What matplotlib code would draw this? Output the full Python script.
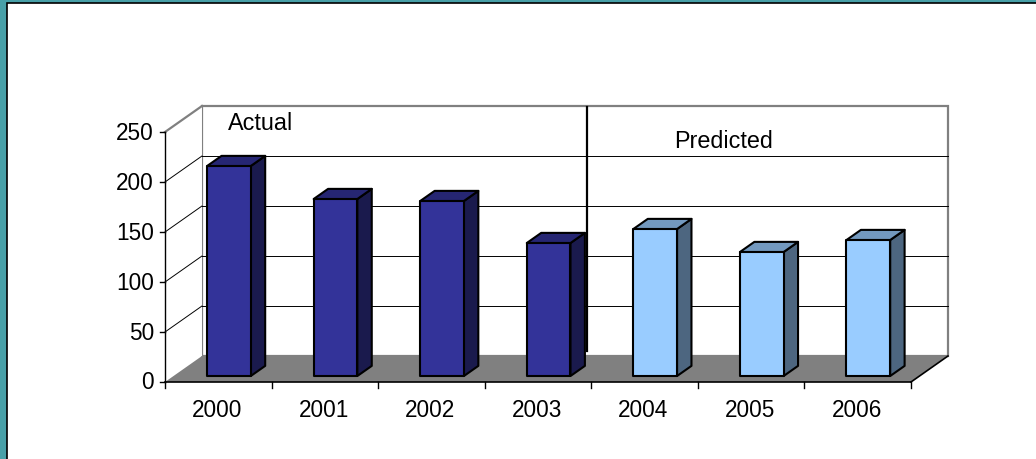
import matplotlib
matplotlib.use("Agg")
import matplotlib.pyplot as plt
from matplotlib.patches import Polygon, Rectangle

plt.rcParams['font.family'] = ['Liberation Sans', 'DejaVu Sans']

# Data
years = ['2000', '2001', '2002', '2003', '2004', '2005', '2006']
values = [210, 177, 175, 133, 147, 124, 136]
is_predicted = [False, False, False, False, True, True, True]
y_ticks = [0, 50, 100, 150, 200, 250]

# 3D look (oblique projection, in data units)
DX = 0.347      # depth shift along x (category units)
DY = 26         # depth shift along y (value units)
bar_w = 0.41
f_front, f_back = 0.23, 0.62   # bar depth position inside the floor

actual_colors = ('#333399', '#262673', '#1a1a4d')      # front, top, side
pred_colors = ('#99ccff', '#7399bf', '#4d6680')

fig = plt.figure(figsize=(10.36, 4.6), dpi=100, facecolor='#48a0a8')
# white slide area with a thin dark edge on left/top
fig.add_artist(Rectangle((6.5 / 1036, -0.2), 1.3, 1.2 - 3.5 / 460,
                         transform=fig.transFigure, facecolor='white',
                         edgecolor='black', linewidth=1.2, zorder=-1))

ax = fig.add_axes([0, 0, 1, 1])
ax.set_facecolor('none')
px = 106.57   # pixels per category
ax.set_xlim(-165 / px, (1036 - 165) / px)
ax.set_ylim(383 - 460, 383)
ax.axis('off')

n = len(years)
edge = '#808080'
fs = 16.3

# back wall
ax.add_patch(Rectangle((DX, DY), n, 250, facecolor='white', edgecolor=edge,
                       linewidth=1.6, zorder=1))
# side wall
ax.add_patch(Polygon([(0, 0), (DX, DY), (DX, DY + 250), (0, 250)], closed=True,
                     facecolor='white', edgecolor='none', zorder=1))
ax.plot([0, DX], [250, DY + 250], color=edge, lw=1.6, zorder=2)
# gridlines
for v in y_ticks[1:-1]:
    ax.plot([DX, DX + n], [DY + v, DY + v], color='black', lw=0.7, zorder=2)
    ax.plot([0, DX], [v, DY + v], color='black', lw=0.7, zorder=2)
# floor
ax.add_patch(Polygon([(0, 0), (n, 0), (n + DX, DY), (DX, DY)], closed=True,
                     facecolor='#808080', edgecolor='none', zorder=3))
ax.plot([n, n + DX], [0, DY], color='black', lw=1.2, zorder=4)

# bars
for i, (v, pred) in enumerate(zip(values, is_predicted)):
    front, top, side = pred_colors if pred else actual_colors
    x0 = i + 0.52 - bar_w / 2 + f_front * DX
    y0 = f_front * DY
    ddx = (f_back - f_front) * DX
    ddy = (f_back - f_front) * DY
    kw = dict(edgecolor='black', linewidth=1.5, joinstyle='round', zorder=5)
    ax.add_patch(Polygon([(x0 + bar_w, y0), (x0 + bar_w + ddx, y0 + ddy),
                          (x0 + bar_w + ddx, y0 + ddy + v), (x0 + bar_w, y0 + v)],
                         facecolor=side, **kw))
    ax.add_patch(Polygon([(x0, y0 + v), (x0 + ddx, y0 + v + ddy),
                          (x0 + bar_w + ddx, y0 + v + ddy), (x0 + bar_w, y0 + v)],
                         facecolor=top, **kw))
    ax.add_patch(Rectangle((x0, y0), bar_w, v, facecolor=front, **kw))

# axes lines and ticks
ax.plot([0, 0], [0, 250], color='black', lw=1, zorder=6)
ax.plot([0, n], [0, 0], color='black', lw=1.2, zorder=6)
for v in y_ticks:
    ax.plot([-5 / px, 0], [v, v], color='black', lw=1, zorder=6)
    ax.text(-11 / px, v, str(v), ha='right', va='center', fontsize=fs)
for i in range(n + 1):
    ax.plot([i, i], [0, -6], color='black', lw=1, zorder=6)
for i, lab in enumerate(years):
    ax.text(i + 0.49, -28, lab, ha='center', va='center', fontsize=fs)

# annotations
ax.text(0.59, 259, 'Actual', ha='left', va='center', fontsize=fs + 0.5, zorder=7)
ax.text(5.245, 241, 'Predicted', ha='center', va='center', fontsize=fs + 0.5, zorder=7)
ax.plot([3.96, 3.96], [31, 275], color='black', lw=1.6, zorder=7)

fig.savefig('out.png', dpi=100, facecolor=fig.get_facecolor())
